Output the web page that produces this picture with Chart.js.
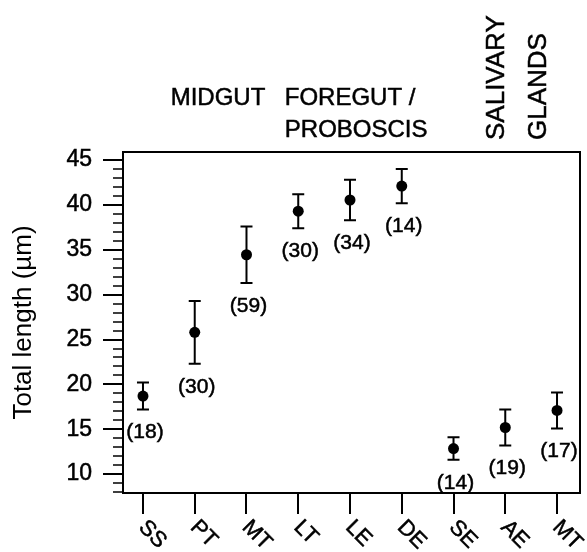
<!DOCTYPE html>
<html>
<head>
<meta charset="utf-8">
<script src="https://cdn.jsdelivr.net/npm/chart.js@4.4.1/dist/chart.umd.min.js"></script>
<style>
  body { margin: 0; background: #fff; }
  canvas { display: block; }
</style>
</head>
<body>
<canvas id="myChart" width="587" height="552"></canvas>
<script>
var categories = ['SS', 'PT', 'MT', 'LT', 'LE', 'DE', 'SE', 'AE', 'MT'];
var means = [18.7, 25.8, 34.45, 39.3, 40.55, 42.1, 12.85, 15.2, 17.1];
var errors = [1.5, 3.5, 3.15, 1.9, 2.25, 1.9, 1.25, 2.0, 2.0];
var counts = [18, 30, 59, 30, 34, 14, 14, 19, 17];
var yTitle = 'Total length (µm)';

var FONT = '"Liberation Sans", Arial, sans-serif';

// text with a thin outline so it looks as heavy as the scanned figure
function heavyText(ctx, t, x, y) {
  ctx.fillText(t, x, y);
  ctx.strokeText(t, x, y);
}

var errorBars = {
  id: 'errorBars',
  beforeDatasetsDraw: function(chart) {
    var ctx = chart.ctx, x = chart.scales.x, y = chart.scales.y;
    ctx.save();
    ctx.strokeStyle = '#000';
    ctx.fillStyle = '#000';
    ctx.font = '21px ' + FONT;
    ctx.textAlign = 'center';
    ctx.textBaseline = 'middle';
    means.forEach(function(m, i) {
      var px = x.getPixelForValue(i);
      var top = y.getPixelForValue(m + errors[i]);
      var bot = y.getPixelForValue(m - errors[i]);
      ctx.lineWidth = 2;
      ctx.beginPath();
      ctx.moveTo(px, top); ctx.lineTo(px, bot);
      ctx.moveTo(px - 6, top); ctx.lineTo(px + 6, top);
      ctx.moveTo(px - 6, bot); ctx.lineTo(px + 6, bot);
      ctx.stroke();
      ctx.lineWidth = 0.5;
      heavyText(ctx, '(' + counts[i] + ')', px + 2, bot + 23);
    });
    ctx.restore();
  },
  afterDraw: function(chart) {
    var ctx = chart.ctx, a = chart.chartArea, x = chart.scales.x, y = chart.scales.y;
    ctx.save();
    ctx.strokeStyle = '#000';
    ctx.fillStyle = '#000';
    // frame
    ctx.lineWidth = 2;
    ctx.strokeRect(a.left, a.top, a.right - a.left, a.bottom - a.top);
    // minor y ticks
    ctx.lineWidth = 1.5;
    ctx.beginPath();
    for (var v = 8; v <= 45; v++) {
      if (v % 5 === 0) continue;
      var py = Math.round(y.getPixelForValue(v));
      ctx.moveTo(a.left - 10, py); ctx.lineTo(a.left, py);
    }
    ctx.stroke();
    ctx.lineWidth = 0.5;
    // x category labels, rotated
    ctx.font = '22px ' + FONT;
    ctx.textAlign = 'left';
    ctx.textBaseline = 'middle';
    categories.forEach(function(c, i) {
      var px = x.getPixelForValue(i);
      ctx.save();
      ctx.translate(px - 1, a.bottom + 31);
      ctx.rotate(Math.PI / 4);
      heavyText(ctx, c, 0, 0);
      ctx.restore();
    });
    // group headings
    ctx.font = '24px ' + FONT;
    ctx.textAlign = 'center';
    heavyText(ctx, 'MIDGUT', x.getPixelForValue(1.45), a.top - 54);
    ctx.textAlign = 'left';
    heavyText(ctx, 'FOREGUT /', x.getPixelForValue(2.74), a.top - 54);
    heavyText(ctx, 'PROBOSCIS', x.getPixelForValue(2.74), a.top - 22);
    ctx.font = '26px ' + FONT;
    ['SALIVARY', 'GLANDS'].forEach(function(t, k) {
      ctx.save();
      ctx.translate(x.getPixelForValue(k === 0 ? 6.84 : 7.64), a.top - 12);
      ctx.rotate(-Math.PI / 2);
      heavyText(ctx, t, 0, 0);
      ctx.restore();
    });
    ctx.restore();
  }
};

function drawChart() {
  var ctx = document.getElementById('myChart');
  var points = means.map(function(m, i) { return { x: i, y: m }; });

  new Chart(ctx, {
    type: 'scatter',
    data: {
      datasets: [{
        data: points,
        backgroundColor: '#000',
        borderWidth: 0,
        pointRadius: 5.5
      }]
    },
    options: {
      responsive: false,
      animation: false,
      layout: { padding: { top: 152, right: 7, left: 0, bottom: 0 } },
      plugins: { legend: { display: false }, tooltip: { enabled: false } },
      scales: {
        x: {
          type: 'linear',
          min: -0.386,
          max: 8.444,
          afterFit: function(s) { s.height = 59; },
          border: { display: false },
          grid: { drawOnChartArea: false, tickLength: 21, lineWidth: 2, color: '#000' },
          ticks: { display: false, stepSize: 1, includeBounds: false }
        },
        y: {
          min: 7.9,
          max: 45.9,
          afterFit: function(s) { s.width = 123; },
          border: { display: false },
          grid: { drawOnChartArea: false, tickLength: 20, lineWidth: 2, color: '#000' },
          ticks: {
            stepSize: 5,
            includeBounds: false,
            padding: 11,
            color: '#000',
            textStrokeColor: '#000',
            textStrokeWidth: 0.5,
            font: { size: 23, family: FONT }
          },
          title: {
            display: true,
            text: yTitle,
            color: '#000',
            font: { size: 26, family: FONT },
            padding: { top: 8, bottom: 0 }
          }
        }
      }
    },
    plugins: [errorBars]
  });
}

window.onload = function() {
  drawChart();
};
</script>
</body>
</html>
